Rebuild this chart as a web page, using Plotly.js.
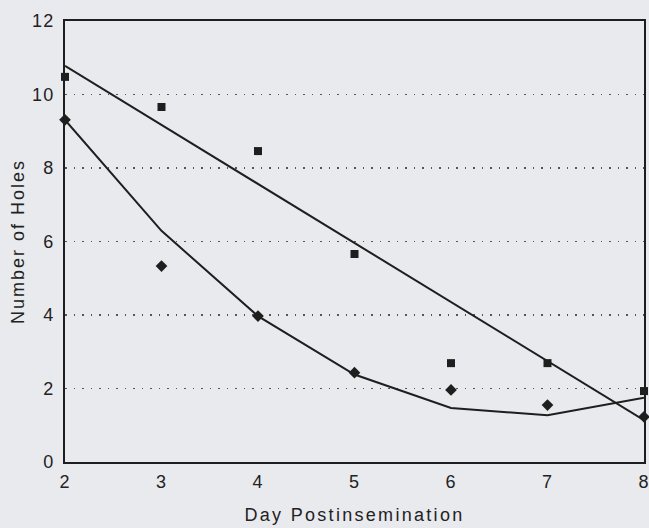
<!DOCTYPE html>
<html>
<head>
<meta charset="utf-8">
<script src="https://cdn.plot.ly/plotly-3.0.1.min.js"></script>
<style>
html,body{margin:0;padding:0;background:#e9eaee;}
.xtick text, .ytick text { letter-spacing: 1.2px; }
.g-xtitle text { letter-spacing: 2.3px; }
.g-ytitle text { letter-spacing: 2px; }
</style>
</head>
<body>
<div id="chart" style="width:649px;height:528px;"></div>
<script>
const days = [2, 3, 4, 5, 6, 7, 8];
const squareValues = [10.48, 9.66, 8.46, 5.66, 2.69, 2.69, 1.93];
const diamondValues = [9.31, 5.33, 3.97, 2.43, 1.96, 1.55, 1.23];
const squareFit = [10.78, 9.17, 7.57, 5.96, 4.35, 2.75, 1.14];
const diamondFit = [9.31, 6.29, 3.97, 2.38, 1.47, 1.27, 1.75];
const yTicks = [0, 2, 4, 6, 8, 10, 12];

const ink = '#1e1e1e';
const traces = [
  {x: days, y: squareFit, mode: 'lines', line: {color: ink, width: 2}, hoverinfo: 'skip'},
  {x: days, y: diamondFit, mode: 'lines', line: {color: ink, width: 2}, hoverinfo: 'skip'},
  {x: days, y: squareValues, mode: 'markers', marker: {symbol: 'square', size: 8, color: ink}, cliponaxis: false},
  {x: days, y: diamondValues, mode: 'markers', marker: {symbol: 'diamond', size: 9, color: ink}, cliponaxis: false}
];

const layout = {
  width: 649, height: 528,
  margin: {l: 65, r: 5, t: 21, b: 66},
  paper_bgcolor: '#e9eaee',
  plot_bgcolor: '#e9eaee',
  showlegend: false,
  font: {family: 'Liberation Sans, Arial, sans-serif', size: 18, color: '#222'},
  xaxis: {
    range: [2, 8], tickvals: days, ticktext: days.map(String),
    showgrid: false, zeroline: false,
    showline: true, mirror: true, linecolor: ink, linewidth: 2,
    ticks: '', ticklabelstandoff: 2, ticklabeloverflow: 'allow',
    title: {text: 'Day Postinsemination', font: {size: 18}, standoff: 18}
  },
  yaxis: {
    range: [0, 12], tickvals: yTicks, ticktext: yTicks.map(String),
    showgrid: true, gridcolor: '#555', gridwidth: 1.5, griddash: '1.5px,7px',
    zeroline: false,
    showline: true, mirror: true, linecolor: ink, linewidth: 2,
    ticks: '', ticklabelstandoff: 5,
    title: {text: 'Number of Holes', font: {size: 18}, standoff: 3}
  }
};

Plotly.newPlot('chart', traces, layout, {displayModeBar: false, staticPlot: true});
</script>
</body>
</html>
